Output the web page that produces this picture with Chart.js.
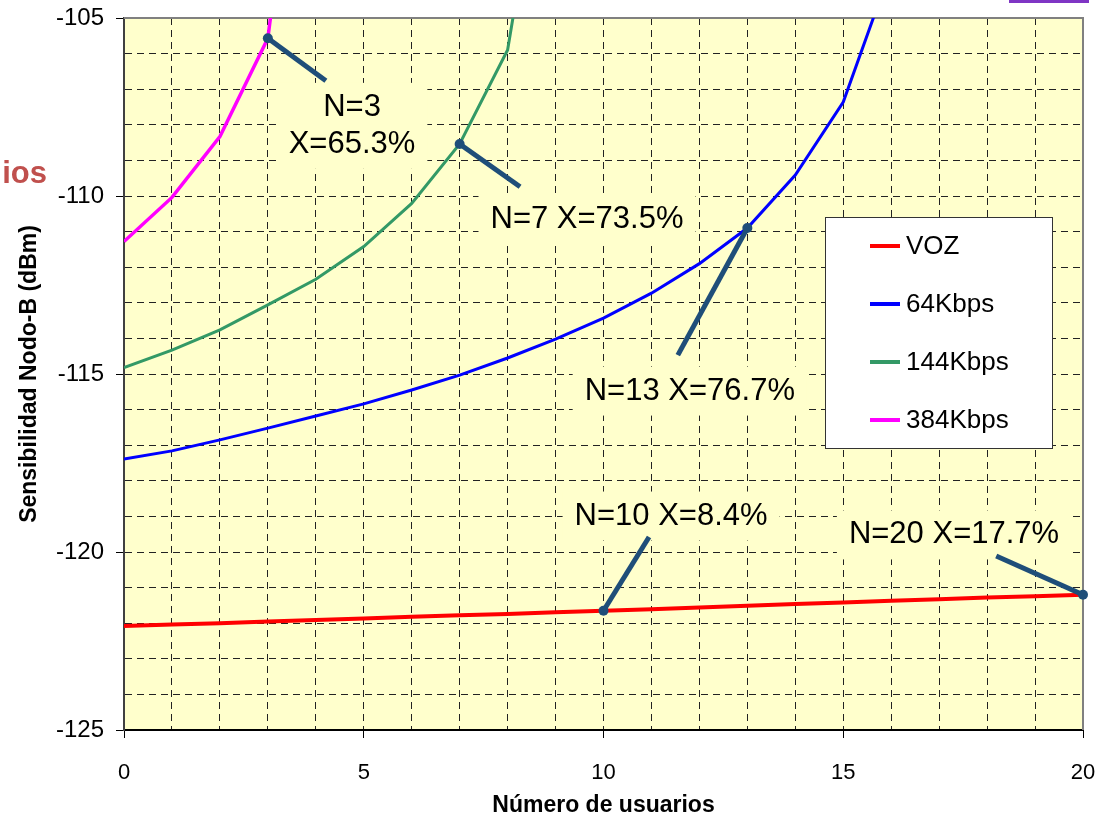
<!DOCTYPE html>
<html lang="es">
<head>
<meta charset="utf-8">
<title>Sensibilidad Nodo-B</title>
<script src="https://cdn.jsdelivr.net/npm/chart.js@4.4.1/dist/chart.umd.min.js"></script>
<style>
  html, body { margin: 0; padding: 0; background: #fff; }
  #contenedor { position: relative; width: 1113px; height: 819px; }
</style>
</head>
<body>
<div id="contenedor"><canvas id="grafico"></canvas></div>
<script>
// Número de usuarios (eje X)
const usuarios = [0, 1, 2, 3, 4, 5, 6, 7, 8, 9, 10, 11, 12, 13, 14, 15, 16, 17, 18, 19, 20];

// Sensibilidad (dBm)
const voz = [-122.08, -122.04, -122.00, -121.95, -121.91, -121.87, -121.82, -121.78, -121.74, -121.69,
             -121.65, -121.61, -121.56, -121.51, -121.46, -121.42, -121.37, -121.33, -121.28, -121.24, -121.20];
const kbps64 = [-117.39, -117.16, -116.85, -116.52, -116.18, -115.84, -115.45, -115.03, -114.55, -114.02,
                -113.43, -112.73, -111.90, -110.90, -109.41, -107.36, -103.6];
const kbps144 = [-114.82, -114.33, -113.76, -113.06, -112.34, -111.42, -110.21, -108.54, -105.9, -97.8];
const kbps384 = [-111.28, -110.04, -108.33, -105.57, -95.0];

const nombresSeries = ['VOZ', '64Kbps', '144Kbps', '384Kbps'];
const coloresSeries = ['#FF0000', '#0000FF', '#339966', '#FF00FF'];
const anchosSeries = [4, 3, 3, 3.5];

// etiquetas visibles de los ejes
const ticksX = [0, 5, 10, 15, 20];
const ticksY = [-125, -120, -115, -110, -105];

// llamadas: serie, punto N, extremo de la línea y texto (en unidades del gráfico)
const llamadaSerie = [3, 2, 1, 0, 0];
const llamadaN = [3, 7, 13, 10, 20];
const llamadaCola = [[4.21, -106.76], [8.26, -109.74], [11.55, -114.47], [10.95, -119.58], [18.19, -120.11]];
const llamadaTexto = [['N=3', 'X=65.3%'], ['N=7 X=73.5%'], ['N=13 X=76.7%'], ['N=10 X=8.4%'], ['N=20 X=17.7%']];
const llamadaPosTexto = [[4.755, -108.03], [9.656, -110.67], [11.80, -115.48], [11.41, -118.99], [17.31, -119.52]];

const series = [voz, kbps64, kbps144, kbps384];
const FUENTE = '"Liberation Sans", Arial, Helvetica, sans-serif';
Chart.defaults.font.family = FUENTE;
Chart.defaults.color = '#000';

const decorado = {
    id: 'decorado',
    beforeDraw(chart) {
        const { ctx, chartArea: a } = chart;
        ctx.save();
        ctx.fillStyle = '#FFFFCC';
        ctx.fillRect(a.left, a.top, a.right - a.left, a.bottom - a.top);
        ctx.restore();
    },
    beforeDatasetsDraw(chart) {
        const { ctx, chartArea: a } = chart;
        ctx.save();
        ctx.strokeStyle = '#808080';
        ctx.lineWidth = 2;
        ctx.beginPath();
        ctx.moveTo(a.left, a.top);
        ctx.lineTo(a.right, a.top);
        ctx.lineTo(a.right, a.bottom);
        ctx.stroke();
        ctx.restore();
    },
    afterDatasetsDraw(chart) {
        const { ctx } = chart;
        const xs = chart.scales.x, ys = chart.scales.y;
        ctx.save();
        ctx.font = '31px ' + FUENTE;
        // fondos de los cuadros de texto
        llamadaTexto.forEach((lineas, i) => {
            const tx = xs.getPixelForValue(llamadaPosTexto[i][0]);
            const ty = ys.getPixelForValue(llamadaPosTexto[i][1]);
            const ancho = Math.max(...lineas.map(t => ctx.measureText(t).width));
            const alto = lineas.length * 37;
            ctx.fillStyle = '#FFFFCC';
            ctx.fillRect(tx - ancho / 2 - 12, ty - alto / 2 - 6, ancho + 24, alto + 12);
        });
        // líneas y puntos
        llamadaN.forEach((n, i) => {
            const px = xs.getPixelForValue(n);
            const py = ys.getPixelForValue(series[llamadaSerie[i]][n]);
            const cx = xs.getPixelForValue(llamadaCola[i][0]);
            const cy = ys.getPixelForValue(llamadaCola[i][1]);
            ctx.strokeStyle = '#1F4E79';
            ctx.fillStyle = '#1F4E79';
            ctx.lineWidth = 5;
            ctx.beginPath();
            ctx.moveTo(px, py);
            ctx.lineTo(cx, cy);
            ctx.stroke();
            ctx.beginPath();
            ctx.arc(px, py, 5, 0, Math.PI * 2);
            ctx.fill();
        });
        // textos
        ctx.fillStyle = '#000';
        ctx.textAlign = 'center';
        ctx.textBaseline = 'middle';
        llamadaTexto.forEach((lineas, i) => {
            const tx = xs.getPixelForValue(llamadaPosTexto[i][0]);
            const ty = ys.getPixelForValue(llamadaPosTexto[i][1]);
            lineas.forEach((t, k) => {
                ctx.fillText(t, tx, ty + (k - (lineas.length - 1) / 2) * 37);
            });
        });
        ctx.restore();
    },
    afterDraw(chart) {
        const { ctx, chartArea: a } = chart;
        ctx.save();
        // leyenda dentro del área
        const lx = a.right - 258, ly = a.top + 199;
        ctx.fillStyle = '#fff';
        ctx.fillRect(lx, ly, 227, 231);
        ctx.strokeStyle = '#333';
        ctx.lineWidth = 1;
        ctx.strokeRect(lx + 0.5, ly + 0.5, 227, 231);
        ctx.font = '26px ' + FUENTE;
        ctx.textBaseline = 'middle';
        ctx.textAlign = 'left';
        nombresSeries.forEach((nombre, i) => {
            const y = ly + 29 + i * 58;
            ctx.strokeStyle = coloresSeries[i];
            ctx.lineWidth = 4;
            ctx.beginPath();
            ctx.moveTo(lx + 45, y);
            ctx.lineTo(lx + 75, y);
            ctx.stroke();
            ctx.fillStyle = '#000';
            ctx.fillText(nombre, lx + 81, y + 1);
        });

        // restos de otros elementos de la diapositiva
        ctx.fillStyle = '#C0504D';
        ctx.font = 'bold 31px ' + FUENTE;
        ctx.textAlign = 'right';
        ctx.textBaseline = 'alphabetic';
        ctx.fillText('ios', 47, 183);
        ctx.fillStyle = '#7F35C4';
        ctx.fillRect(1009, 0, 80, 3);
        ctx.restore();
    }
};

const datasets = series.map((s, i) => ({
    label: nombresSeries[i],
    data: s.map((v, k) => ({ x: usuarios[k], y: v })),
    borderColor: coloresSeries[i],
    borderWidth: anchosSeries[i],
    pointRadius: 0,
    tension: 0,
    fill: false
}));

// tamaño fijo de los ejes, sin relleno extra por las etiquetas de los extremos
function fijarEje(s, prop, valor) {
    s[prop] = valor;
    s.paddingTop = 0;
    s.paddingBottom = 0;
    s.paddingLeft = 0;
    s.paddingRight = 0;
}

new Chart(document.getElementById('grafico'), {
    type: 'line',
    data: { datasets },
    plugins: [decorado],
    options: {
        responsive: true,
        maintainAspectRatio: false,
        animation: false,
        layout: { padding: { top: 18, right: 30, left: 0, bottom: 0 } },
        plugins: {
            legend: { display: false },
            tooltip: { enabled: false }
        },
        scales: {
            x: {
                type: 'linear',
                min: 0,
                max: 20,
                afterFit: s => fijarEje(s, 'height', 89),
                ticks: {
                    stepSize: 1,
                    autoSkip: false,
                    maxRotation: 0,
                    padding: 22,
                    font: { size: 22 },
                    callback: v => ticksX.includes(v) ? v : ''
                },
                grid: {
                    color: '#222',
                    lineWidth: 1,
                    tickLength: 8,
                    tickColor: c => ticksX.includes(c.tick.value) ? '#000' : 'rgba(0,0,0,0)'
                },
                border: { display: true, color: '#000', width: 2, dash: [7, 5] },
                title: {
                    display: true,
                    text: 'Número de usuarios',
                    font: { size: 23, weight: 'bold' },
                    padding: { top: 0, bottom: 0 }
                }
            },
            y: {
                type: 'linear',
                min: -125,
                max: -105,
                afterFit: s => fijarEje(s, 'width', 124),
                ticks: {
                    stepSize: 1,
                    autoSkip: false,
                    padding: 12,
                    font: { size: 24 },
                    callback: v => ticksY.includes(v) ? v : ''
                },
                grid: {
                    color: '#222',
                    lineWidth: 1,
                    tickLength: 8,
                    tickColor: c => ticksY.includes(c.tick.value) ? '#000' : 'rgba(0,0,0,0)'
                },
                border: { display: true, color: '#404040', width: 2, dash: [7, 5] },
                title: {
                    display: true,
                    text: 'Sensibilidad Nodo-B (dBm)',
                    font: { size: 23, weight: 'bold' },
                    padding: { top: 16, bottom: 0 }
                }
            }
        }
    }
});
</script>
</body>
</html>
